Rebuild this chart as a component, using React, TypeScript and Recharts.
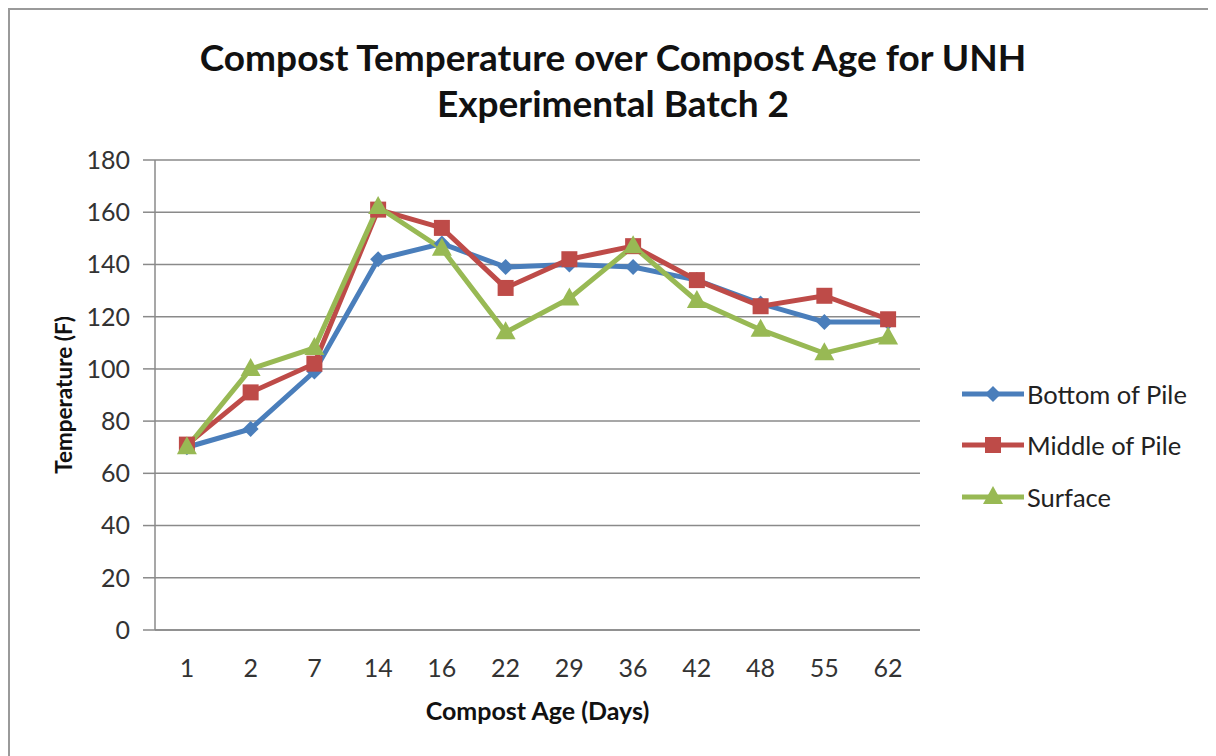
import { LineChart, Line, XAxis, YAxis, CartesianGrid, Legend } from 'recharts';

const categories = ['1', '2', '7', '14', '16', '22', '29', '36', '42', '48', '55', '62'];
const bottomOfPile = [70, 77, 99, 142, 148, 139, 140, 139, 134, 125, 118, 118];
const middleOfPile = [71, 91, 102, 161, 154, 131, 142, 147, 134, 124, 128, 119];
const surface = [70, 100, 108, 162, 146, 114, 127, 147, 126, 115, 106, 112];
const yTicks = [0, 20, 40, 60, 80, 100, 120, 140, 160, 180];
const boundaryTicks = [0, 1, 2, 3, 4, 5, 6, 7, 8, 9, 10, 11, 12];

const data = categories.map((day, i) => ({
  day,
  bottom: bottomOfPile[i],
  middle: middleOfPile[i],
  surface: surface[i],
}));

const BLUE = '#4a7ebb';
const RED = '#be4b48';
const GREEN = '#98b954';
const FONT = 'Lato, "Open Sans", sans-serif';

function Diamond({ cx, cy, fill }: any) {
  if (cx == null || cy == null) return null;
  return <polygon points={`${cx},${cy - 8} ${cx + 8},${cy} ${cx},${cy + 8} ${cx - 8},${cy}`} fill={fill} />;
}

function Square({ cx, cy, fill }: any) {
  if (cx == null || cy == null) return null;
  return <rect x={cx - 8} y={cy - 8} width={16} height={16} fill={fill} />;
}

function Triangle({ cx, cy, fill }: any) {
  if (cx == null || cy == null) return null;
  return <polygon points={`${cx},${cy - 11} ${cx + 10},${cy + 7} ${cx - 10},${cy + 7}`} fill={fill} />;
}

const legendItems = [
  { name: 'Bottom of Pile', color: BLUE, Marker: Diamond },
  { name: 'Middle of Pile', color: RED, Marker: Square },
  { name: 'Surface', color: GREEN, Marker: Triangle },
];

function ChartLegend() {
  return (
    <div style={{ paddingLeft: 42, fontFamily: FONT }}>
      {legendItems.map(({ name, color, Marker }) => (
        <div key={name} style={{ display: 'flex', alignItems: 'center', height: 51.5 }}>
          <svg width={62} height={24}>
            <line x1={0} y1={12} x2={62} y2={12} stroke={color} strokeWidth={5} />
            <Marker cx={31} cy={12} fill={color} />
          </svg>
          <span style={{ fontSize: 25.5, color: '#222', marginLeft: 3 }}>{name}</span>
        </div>
      ))}
    </div>
  );
}

function YTitle({ viewBox }: any) {
  const x = viewBox.x + 53;
  const y = viewBox.y + viewBox.height / 2;
  return (
    <text
      x={x}
      y={y}
      transform={`rotate(-90, ${x}, ${y})`}
      textAnchor="middle"
      dominantBaseline="central"
      style={{ fontFamily: FONT, fontSize: 22.5, fontWeight: 700, fill: '#111' }}
    >
      Temperature (F)
    </text>
  );
}

export default function App() {
  return (
    <div style={{ position: 'relative', width: 1230, height: 770, border: '2px solid #9a9a9a', background: '#fff' }}>
      <div
        style={{
          position: 'absolute',
          top: 24,
          left: 3,
          width: 1200,
          textAlign: 'center',
          fontFamily: FONT,
          fontWeight: 700,
          fontSize: 37,
          lineHeight: '46px',
          color: '#111',
        }}
      >
        Compost Temperature over Compost Age for UNH
        <br />
        Experimental Batch 2
      </div>
      <LineChart width={1200} height={740} data={data} margin={{ top: 150, right: 20, bottom: 20, left: 0 }}>
        <CartesianGrid horizontal vertical={false} stroke="#8a8a8a" strokeWidth={1.5} />
        <XAxis
          xAxisId="bounds"
          type="number"
          domain={[0, 12]}
          ticks={boundaryTicks}
          allowDataOverflow
          height={0}
          tick={false}
          tickSize={10}
          axisLine={false}
          tickLine={{ stroke: '#8a8a8a', strokeWidth: 1.5 }}
        />
        <XAxis
          dataKey="day"
          height={100}
          padding={{ left: 31.9, right: 31.9 }}
          axisLine={{ stroke: '#8a8a8a', strokeWidth: 1.5 }}
          tickLine={false}
          tickSize={0}
          tickMargin={29}
          tick={{ fontFamily: FONT, fontSize: 25, fill: '#333' }}
          label={{
            value: 'Compost Age (Days)',
            position: 'insideBottom',
            offset: 10,
            style: { fontFamily: FONT, fontSize: 25, fontWeight: 700, fill: '#111' },
          }}
        />
        <YAxis
          width={145}
          domain={[0, 180]}
          ticks={yTicks}
          interval={0}
          axisLine={{ stroke: '#8a8a8a', strokeWidth: 1.5 }}
          tickLine={{ stroke: '#8a8a8a', strokeWidth: 1.5 }}
          tickSize={12}
          tickMargin={13}
          tick={{ fontFamily: FONT, fontSize: 25, fill: '#333' }}
          label={<YTitle />}
        />
        <Legend
          layout="vertical"
          align="right"
          verticalAlign="top"
          wrapperStyle={{ width: 270, top: 358, left: 910 }}
          content={<ChartLegend />}
        />
        <Line
          dataKey="bottom"
          name="Bottom of Pile"
          stroke={BLUE}
          strokeWidth={5}
          dot={<Diamond fill={BLUE} />}
          activeDot={false}
          isAnimationActive={false}
        />
        <Line
          dataKey="middle"
          name="Middle of Pile"
          stroke={RED}
          strokeWidth={5}
          dot={<Square fill={RED} />}
          activeDot={false}
          isAnimationActive={false}
        />
        <Line
          dataKey="surface"
          name="Surface"
          stroke={GREEN}
          strokeWidth={5}
          dot={<Triangle fill={GREEN} />}
          activeDot={false}
          isAnimationActive={false}
        />
      </LineChart>
    </div>
  );
}
